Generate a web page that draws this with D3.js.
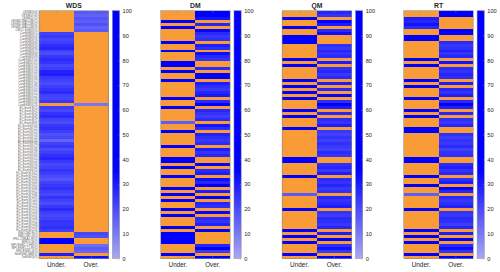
<!DOCTYPE html>
<html>
<head>
<meta charset="utf-8">
<script src="https://cdn.jsdelivr.net/npm/d3@7"></script>
<style>
body { margin: 0; background: #fff; }
svg text { font-family: "Liberation Sans", Arial, sans-serif; fill: #262626; }
</style>
</head>
<body>
<svg id="chart" width="500" height="272"></svg>
<script>
// panels and columns
var methods = ["WDS", "DM", "QM", "RT"];
var columns = ["Under.", "Over."];
var cbTicks = [0, 10, 20, 30, 40, 50, 60, 70, 80, 90, 100];

// row labels (ensemble members)
var models = [
    "CESM2(r4)", "CESM2(r10)", "CESM2(r11)", "CESM2-WACCM(r1)", "CESM2-WACCM(r2)", "CESM2-WACCM(r3)", "CMCC-ESM2(r1)",
    "CanESM5(r1)", "CanESM5(r2)", "CanESM5(r3)", "CanESM5(r4)", "CanESM5(r5)", "CanESM5(r6)", "CanESM5(r7)", "CanESM5(r8)",
    "CanESM5(r9)", "CanESM5(r10)", "CanESM5(r11)", "CanESM5(r12)", "CanESM5(r13)", "CanESM5(r14)", "CanESM5(r15)", "CanESM5(r16)",
    "CanESM5(r17)", "CanESM5(r18)", "CanESM5(r19)", "CanESM5(r20)", "CanESM5(r21)", "CanESM5(r22)", "CanESM5(r23)", "CanESM5(r24)",
    "CanESM5(r25)",
    "EC-Earth3(r1)", "EC-Earth3(r2)", "EC-Earth3(r4)", "EC-Earth3(r6)", "EC-Earth3(r7)", "EC-Earth3(r9)", "EC-Earth3(r10)",
    "EC-Earth3(r11)", "EC-Earth3(r12)", "EC-Earth3(r13)", "EC-Earth3(r14)", "EC-Earth3(r15)", "EC-Earth3(r16)", "EC-Earth3(r17)",
    "EC-Earth3(r18)", "EC-Earth3(r19)", "EC-Earth3(r20)", "EC-Earth3(r21)", "EC-Earth3(r22)", "EC-Earth3(r23)", "EC-Earth3(r24)",
    "EC-Earth3(r25)", "EC-Earth3(r101)", "EC-Earth3(r102)", "EC-Earth3(r103)", "EC-Earth3(r104)", "EC-Earth3(r105)",
    "EC-Earth3(r106)", "EC-Earth3(r107)", "EC-Earth3(r108)", "EC-Earth3(r109)", "EC-Earth3(r110)", "EC-Earth3(r111)",
    "EC-Earth3(r112)", "EC-Earth3(r113)", "EC-Earth3(r114)", "EC-Earth3(r115)", "EC-Earth3(r116)", "EC-Earth3(r117)",
    "EC-Earth3(r118)", "EC-Earth3(r119)", "EC-Earth3(r120)",
    "INM-CM4-8(r1)", "INM-CM5-0(r1)", "IPSL-CM6A-LR(r1)", "MIROC6(r1)", "MPI-ESM1-2-HR(r1)", "MPI-ESM1-2-LR(r1)",
    "MRI-ESM2-0(r1)", "NorESM2-MM(r1)", "TaiESM1(r1)"
];

// which column holds the value in each row (U = Under., O = Over.); the other cell is orange
var wdsSide = "OOOOOOOUUU UUUUUUUUUU UUUUUUUUUU UOUUUUUUUU UUUUUUUUUU UUUUUUUUUU UUUUUUUUUU UUUUOOUUOO OUO";
var dmSide  = "OOOUOUOOOO UOOUOOOUUO UOOUOOOOOU OOUOOOOUOO UOOOOUOOOU UOUOOUOOOU OUOUOOUOUO OOUOUUUUOO OUO";
var qmSide  = "OOUOOUOOUU UOOOOOUOUO OOOUOUOUOU OOOUOUOOOU OOOOOOOOOU UOOOOUOOOO OUOOOOUOOO OOOUOUOUOO OUO";
var rtSide  = "OOUUUUOOUU OOOOOOUOUO OOOUOUOOOU OOOUOUOOOU UOOOOOOOOU UOOOOUOOUO OUOOOOUOOO OOOUOUOUOO OUO";

// value (0-100) shown in the non-orange cell of each row
var wdsVal = [17, 15, 18, 16, 19, 15, 17, 22, 24, 21,
    23, 26, 28, 22, 20, 24, 27, 25, 21, 23,
    29, 30, 24, 22, 20, 23, 25, 27, 22, 21,
    24, 11, 23, 21, 25, 27, 22, 20, 24, 26,
    23, 19, 21, 15, 22, 24, 20, 23, 26, 28,
    24, 21, 22, 25, 23, 20, 18, 22, 24, 26,
    23, 21, 25, 22, 20, 24, 27, 23, 21, 22,
    25, 24, 26, 23, 21, 19, 85, 90, 13, 17,
    14, 30, 33];
var dmVal = [60, 55, 32, 75, 28, 65, 35, 27, 24, 26,
    80, 30, 26, 70, 33, 28, 25, 85, 78, 27,
    72, 45, 38, 68, 30, 26, 24, 28, 31, 75,
    27, 50, 70, 28, 25, 23, 27, 16, 32, 26,
    65, 29, 26, 24, 27, 72, 30, 25, 28, 80,
    76, 55, 70, 27, 30, 68, 33, 28, 45, 74,
    30, 66, 40, 72, 28, 26, 70, 35, 64, 27,
    25, 29, 70, 38, 85, 90, 82, 78, 28, 45,
    24, 72, 48];
var qmVal = [28, 25, 70, 45, 30, 75, 27, 33, 80, 85,
    75, 26, 24, 28, 25, 27, 65, 30, 72, 26,
    28, 24, 27, 70, 30, 68, 28, 60, 35, 75,
    26, 55, 30, 72, 28, 66, 27, 25, 30, 70,
    24, 22, 25, 23, 26, 24, 22, 27, 25, 45,
    60, 26, 28, 24, 30, 70, 27, 25, 28, 24,
    26, 17, 28, 25, 27, 30, 72, 25, 23, 27,
    26, 24, 28, 70, 30, 75, 45, 70, 26, 32,
    24, 70, 50];
var rtVal = [50, 40, 30, 28, 32, 27, 60, 35, 70, 65,
    27, 24, 26, 29, 25, 28, 65, 32, 70, 27,
    25, 28, 26, 72, 30, 66, 28, 25, 30, 75,
    27, 40, 29, 70, 28, 68, 26, 24, 28, 72,
    60, 26, 23, 25, 24, 27, 22, 25, 26, 50,
    65, 27, 29, 25, 28, 68, 26, 30, 85, 35,
    28, 16, 27, 24, 26, 29, 70, 25, 24, 27,
    26, 23, 28, 70, 30, 72, 45, 68, 27, 33,
    25, 70, 55];

var sides = [wdsSide, dmSide, qmSide, rtSide].map(function (s) { return s.replace(/ /g, ""); });
var vals = [wdsVal, dmVal, qmVal, rtVal];

var orange = "#f99b36";
var boxColor = "#8c8c8c";

var svg = d3.select("#chart");
var yTop = 10.7, yBottom = 258.5, panelW = 69.6;

var panelX = d3.scaleLinear().domain([0, 3]).range([39, 403.7]);
var y = d3.scaleBand().domain(models).range([yTop, yBottom]);
var color = d3.scaleLinear().domain([0, 36]).range(["#a8a8f2", "#0000ff"]).clamp(true);
var cbY = d3.scaleLinear().domain([0, 100]).range([yBottom, yTop]);

// colorbar gradient
var grad = svg.append("defs").append("linearGradient")
    .attr("id", "cbgrad")
    .attr("x1", 0).attr("y1", 1).attr("x2", 0).attr("y2", 0);
grad.selectAll("stop")
    .data(d3.range(0, 101, 5))
    .enter()
    .append("stop")
    .attr("offset", function (d) { return d + "%"; })
    .attr("stop-color", function (d) { return color(d); });

methods.forEach(function (m, p) {
    var x0 = panelX(p);
    var x = d3.scaleBand().domain(columns).range([x0, x0 + panelW]);
    var side = sides[p];
    var v = vals[p];
    var g = svg.append("g");

    // cells: two per row
    var cells = [];
    models.forEach(function (name, i) {
        var under = side[i] === "U";
        cells.push({ row: name, col: "Under.", fill: under ? color(v[i]) : orange });
        cells.push({ row: name, col: "Over.", fill: under ? orange : color(v[i]) });
    });

    g.selectAll("rect.cell")
        .data(cells)
        .enter()
        .append("rect")
        .attr("class", "cell")
        .attr("x", function (d) { return x(d.col); })
        .attr("y", function (d) { return y(d.row); })
        .attr("width", x.bandwidth())
        .attr("height", y.bandwidth() + 0.3)
        .attr("fill", function (d) { return d.fill; })
        .attr("shape-rendering", "crispEdges");

    // x axes, ticks inside
    var xb = g.append("g")
        .attr("transform", "translate(0," + yBottom + ")")
        .call(d3.axisBottom(x).tickSize(-2).tickPadding(3.5));
    xb.selectAll("text").style("font-size", "6.4px");
    var xt = g.append("g")
        .attr("transform", "translate(0," + yTop + ")")
        .call(d3.axisTop(x).tickSize(-2).tickFormat(""));
    [xb, xt].forEach(function (a) {
        a.select(".domain").remove();
        a.selectAll("line").attr("stroke", boxColor).attr("stroke-width", 0.5);
    });

    // model labels on first panel only
    if (p === 0) {
        var yl = g.append("g")
            .attr("transform", "translate(" + x0 + ",0)")
            .call(d3.axisLeft(y).tickSize(-1.5).tickPadding(1.5));
        yl.selectAll("text").style("font-size", "2.9px").style("fill", "#555");
        var yr = g.append("g")
            .attr("transform", "translate(" + (x0 + panelW) + ",0)")
            .call(d3.axisRight(y).tickSize(-1.5).tickFormat(""));
        [yl, yr].forEach(function (a) {
            a.select(".domain").remove();
            a.selectAll("line").attr("stroke", boxColor).attr("stroke-width", 0.4);
        });
    }

    // box
    g.append("rect")
        .attr("x", x0).attr("y", yTop)
        .attr("width", panelW).attr("height", yBottom - yTop)
        .attr("fill", "none")
        .attr("stroke", boxColor)
        .attr("stroke-width", 0.6);

    // title
    g.append("text")
        .attr("x", x0 + panelW / 2)
        .attr("y", 7.6)
        .attr("text-anchor", "middle")
        .style("font-size", "6.8px")
        .style("font-weight", "bold")
        .text(m);

    // colorbar
    var cbx = x0 + 73.4;
    g.append("rect")
        .attr("x", cbx).attr("y", yTop)
        .attr("width", 7.2).attr("height", yBottom - yTop)
        .attr("fill", "url(#cbgrad)")
        .attr("stroke", boxColor)
        .attr("stroke-width", 0.5);
    var cb = g.append("g")
        .attr("transform", "translate(" + (cbx + 7.2) + ",0)")
        .call(d3.axisRight(cbY).tickValues(cbTicks).tickSize(-1.5).tickPadding(3));
    cb.select(".domain").remove();
    cb.selectAll("line").attr("stroke", boxColor).attr("stroke-width", 0.5);
    cb.selectAll("text").style("font-size", "5.6px");
});
</script>
</body>
</html>
